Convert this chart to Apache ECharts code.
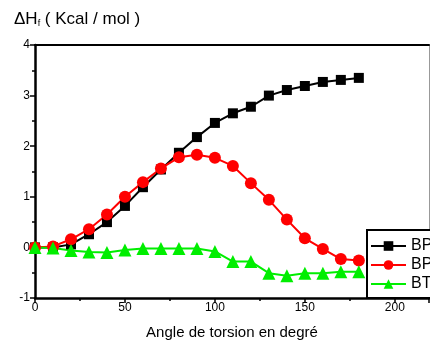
<!DOCTYPE html>
<html><head><meta charset="utf-8">
<script src="https://cdn.jsdelivr.net/npm/echarts@6/dist/echarts.min.js"></script>
<style>html,body{margin:0;padding:0;background:#fff}#c{width:430px;height:345px}</style>
</head><body><div id="c"></div>
<script>
const angles = [0,10,20,30,40,50,60,70,80,90,100,110,120,130,140,150,160,170,180];
const bp1 = [0,0,0.06,0.26,0.5,0.82,1.19,1.54,1.87,2.18,2.46,2.65,2.78,3.0,3.11,3.19,3.27,3.31,3.35];
const bp2 = [0,0.02,0.16,0.36,0.65,1.0,1.29,1.56,1.78,1.83,1.77,1.61,1.27,0.94,0.55,0.18,-0.03,-0.23,-0.26];
const bt  = [0,-0.01,-0.06,-0.09,-0.1,-0.05,-0.02,-0.02,-0.02,-0.02,-0.08,-0.28,-0.28,-0.51,-0.56,-0.51,-0.51,-0.48,-0.48];
const seriesNames = ['BP#1','BP#2','BT'];
const legendLabels = {'BP#1':'BP','BP#2':'BP','BT':'BT'};
const yTicks = [-1,0,1,2,3,4];
const xTicks = [0,50,100,150,200];

const font = 'Liberation Sans, Arial, sans-serif';
const chart = echarts.init(document.getElementById('c'));
function mk(vals){ return angles.map((a,i)=>[a, vals[i]]); }
chart.setOption({
  animation:false,
  backgroundColor:'#fff',
  textStyle:{fontFamily:font},
  title:{
    text:'{d|ΔH}{s|f}{d| ( Kcal / mol )}',
    left:9, top:6,
    textStyle:{fontWeight:'normal',rich:{d:{fontSize:17,fontFamily:font,color:'#000',fontWeight:'normal'},s:{fontSize:9,fontFamily:font,color:'#000',fontWeight:'normal',padding:[8,0,0,0]}}}
  },
  grid:{left:35,right:1,top:45,bottom:47},
  legend:{
    data:seriesNames,
    formatter:(n)=>legendLabels[n],
    orient:'vertical',
    left:367, top:230,
    padding:[8,0,6,3],
    itemWidth:35, itemHeight:12, itemGap:3,
    backgroundColor:'#fff', borderColor:'#000', borderWidth:2,
    textStyle:{fontSize:16,fontFamily:font,color:'#000'},
    selectedMode:false, z:10
  },
  xAxis:[{
    type:'value', min:0, max:219, interval:50,
    name:'Angle de torsion en degré', nameLocation:'middle', nameGap:27,
    nameTextStyle:{fontSize:15,fontFamily:font,color:'#000'},
    axisLine:{onZero:false,lineStyle:{color:'#000',width:2.5}},
    axisTick:{show:true,inside:false,length:5,lineStyle:{color:'#000',width:1.5}},
    minorTick:{show:true,splitNumber:2,length:3,lineStyle:{color:'#000',width:1.5}},
    axisLabel:{fontSize:12,fontFamily:font,color:'#000',margin:4,showMaxLabel:false,
      formatter:(v)=>xTicks.includes(v)?String(v):''},
    splitLine:{show:false}
  },{
    type:'value', position:'top', min:0, max:219,
    axisLine:{show:true,onZero:false,lineStyle:{color:'#000',width:2}},
    axisTick:{show:false}, axisLabel:{show:false}, splitLine:{show:false}
  }],
  yAxis:[{
    type:'value', min:-1, max:4, interval:1,
    axisLine:{show:true,onZero:false,lineStyle:{color:'#000',width:2.5}},
    axisTick:{show:true,inside:false,length:5,lineStyle:{color:'#000',width:1.5}},
    minorTick:{show:true,splitNumber:2,length:3,lineStyle:{color:'#000',width:1.5}},
    axisLabel:{fontSize:12,fontFamily:font,color:'#000',margin:5,
      formatter:(v)=>yTicks.includes(v)?String(v):''},
    splitLine:{show:false}
  },{
    type:'value', position:'right', min:-1, max:4,
    axisLine:{show:true,onZero:false,lineStyle:{color:'#999',width:1}},
    axisTick:{show:false}, axisLabel:{show:false}, splitLine:{show:false}
  }],
  series:[
    {name:seriesNames[0],type:'line',data:mk(bp1),color:'#000',symbol:'rect',symbolSize:10,
      lineStyle:{width:2,color:'#000'},itemStyle:{color:'#000'}},
    {name:seriesNames[1],type:'line',data:mk(bp2),color:'#ff0000',symbol:'circle',symbolSize:12,
      lineStyle:{width:2,color:'#ff0000'},itemStyle:{color:'#ff0000'}},
    {name:seriesNames[2],type:'line',data:mk(bt),color:'#00ee00',symbol:'triangle',symbolSize:13,
      lineStyle:{width:2,color:'#00ee00'},itemStyle:{color:'#00ee00'}}
  ]
});
</script></body></html>
